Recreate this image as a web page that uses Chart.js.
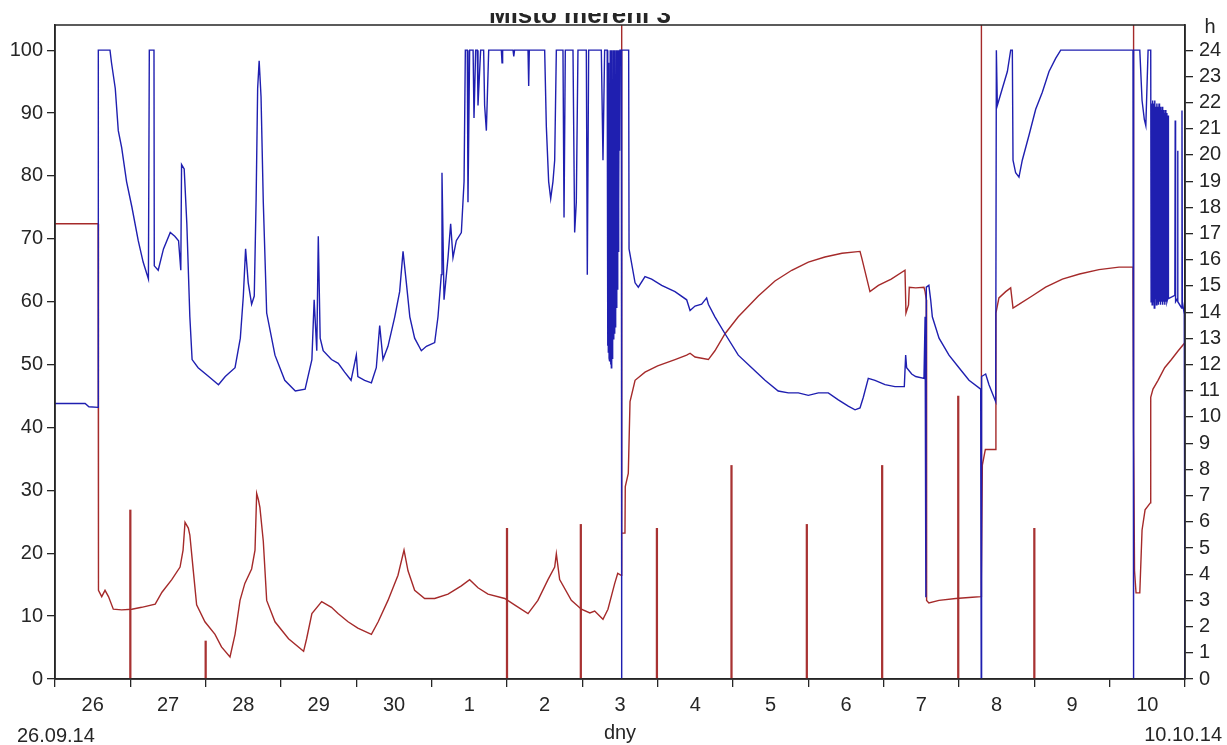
<!DOCTYPE html>
<html>
<head>
<meta charset="utf-8">
<script src="https://cdn.jsdelivr.net/npm/chart.js@4.4.1/dist/chart.umd.min.js"></script>
<style>
  html, body { margin: 0; padding: 0; background: #fff; }
  canvas { display: block; }
</style>
</head>
<body>
<canvas id="chart" width="1227" height="745"></canvas>
<script>
// x values are days since 26.09.14 00:00
const dayLabels = ['26', '27', '28', '29', '30', '1', '2', '3', '4', '5', '6', '7', '8', '9', '10'];
const dayEdges = [0, 1, 2, 3, 4, 5, 6, 7, 8, 9, 10, 11, 12, 13, 14, 15];
const leftTicks = [0, 10, 20, 30, 40, 50, 60, 70, 80, 90, 100];
const rightTicks = [0, 1, 2, 3, 4, 5, 6, 7, 8, 9, 10, 11, 12, 13, 14, 15, 16, 17, 18, 19, 20, 21, 22, 23, 24];

// blue series (left axis)
const blueDay = [
  0, 0.40, 0.45, 0.573, 0.575, 0.73, 0.75, 0.80, 0.84, 0.885, 0.95, 1.02, 1.105, 1.17, 1.24, 1.252, 1.314, 1.318,
  1.37, 1.44, 1.53, 1.59, 1.64, 1.67, 1.68, 1.715, 1.75, 1.79, 1.82, 1.90, 2.04, 2.17, 2.26, 2.39, 2.46, 2.50,
  2.53, 2.565, 2.61, 2.645, 2.67, 2.69, 2.71, 2.735, 2.765, 2.81, 2.92, 3.05, 3.19, 3.32, 3.41, 3.44, 3.475, 3.495,
  3.52, 3.56, 3.67, 3.76, 3.845, 3.93, 4.0, 4.02, 4.11, 4.2, 4.265, 4.31, 4.354, 4.42, 4.51, 4.575, 4.62, 4.664,
  4.71, 4.774, 4.863, 4.93, 5.04, 5.084, 5.128, 5.137, 5.164, 5.217, 5.252, 5.283, 5.327, 5.394, 5.43, 5.447,
  5.473, 5.482, 5.504, 5.55, 5.562, 5.584, 5.606, 5.615, 5.65, 5.69, 5.703, 5.726, 5.757, 5.925, 5.934, 5.942,
  6.08, 6.09, 6.10, 6.279, 6.288, 6.296, 6.50, 6.522, 6.553, 6.58, 6.61, 6.633, 6.655, 6.743, 6.757, 6.774,
  6.876, 6.898, 6.92, 6.942, 7.053, 7.066, 7.084, 7.252, 7.274, 7.296, 7.33,
  7.335, 7.34, 7.345, 7.35, 7.355, 7.36, 7.365, 7.37, 7.375, 7.38, 7.385, 7.39, 7.395, 7.40, 7.405, 7.41, 7.415,
  7.42, 7.425, 7.43, 7.435, 7.44, 7.445, 7.45, 7.455, 7.46, 7.465, 7.47, 7.475, 7.48, 7.485, 7.49, 7.495, 7.50,
  7.518, 7.52, 7.525, 7.615, 7.62, 7.70, 7.743, 7.832, 7.92, 8.053, 8.23, 8.385, 8.43, 8.496, 8.584, 8.65, 8.673,
  8.76, 8.894, 9.07, 9.248, 9.425, 9.60, 9.735, 9.867, 10.0, 10.133, 10.265, 10.398, 10.53, 10.62, 10.686, 10.73,
  10.796, 10.885, 11.018, 11.15, 11.274, 11.292, 11.305, 11.372, 11.425, 11.535, 11.55, 11.56, 11.566, 11.60,
  11.624, 11.646, 11.735, 11.867, 12.0, 12.133, 12.288, 12.295, 12.30, 12.354, 12.398, 12.487, 12.496, 12.509,
  12.575, 12.642, 12.686, 12.708, 12.717, 12.752, 12.796, 12.84, 12.93, 13.018, 13.106, 13.195, 13.283, 13.35,
  14.31, 14.315, 14.32, 14.40, 14.43, 14.46, 14.48, 14.51, 14.545,
  14.55, 14.557, 14.564, 14.571, 14.578, 14.585, 14.592, 14.599, 14.606, 14.613, 14.62, 14.627, 14.634, 14.641,
  14.648, 14.655, 14.662, 14.669, 14.676, 14.683, 14.69, 14.697, 14.704, 14.711, 14.718, 14.725, 14.732, 14.739,
  14.746, 14.753, 14.76, 14.77, 14.775, 14.78, 14.865, 14.87, 14.875, 14.90, 14.903, 14.906, 14.955, 14.96,
  14.965, 14.99, 15.0
];
const blueVal = [
  43.8, 43.8, 43.3, 43.2, 100, 100, 98, 93.9, 87.2, 84.5, 79.1, 75.1, 69.7, 66.3, 63.6, 100, 100, 65.7,
  65.0, 68.4, 71.0, 70.4, 69.7, 65.0, 81.8, 81.1, 72.4, 57.6, 50.8, 49.5, 48.1, 46.8, 48.1, 49.5, 54.2, 60.9,
  68.4, 63.0, 59.6, 60.9, 76.4, 93.9, 98.3, 92.6, 75.8, 58.2, 51.5, 47.5, 45.8, 46.1, 50.8, 60.3, 52.2, 70.4,
  54.2, 52.2, 50.8, 50.2, 48.8, 47.5, 51.5, 48.1, 47.5, 47.1, 49.5, 56.2, 50.8, 52.9, 57.6, 61.6, 68.0, 63.0,
  57.6, 54.2, 52.2, 52.9, 53.5, 57.6, 64.3, 80.5, 60.3, 67.0, 72.4, 67.0, 69.7, 71.0, 79.1, 100,
  100, 75.8, 100, 100, 89.2, 100, 100, 91.2, 100, 100, 91.2, 87.2, 100, 100, 98, 100,
  100, 99, 100, 100, 94.3, 100, 100, 87.9, 79.1, 76.4, 79.1, 82.5, 100, 100, 73.4, 100,
  100, 71.0, 75.8, 100, 100, 64.3, 100, 100, 82.5, 100, 100,
  53, 95, 52, 98, 51, 92, 50.5, 100, 50, 96, 49.5, 100, 51, 90, 52, 100, 54,
  97, 55, 100, 56, 94, 58, 100, 59, 98, 62, 100, 68, 100, 75, 100, 84, 100,
  100, 0, 100, 100, 68.4, 63.0, 62.3, 64.0, 63.6, 62.6, 61.6, 60.3, 58.6, 59.3, 59.6, 60.6, 59.6,
  57.6, 54.9, 51.5, 49.5, 47.5, 45.8, 45.5, 45.5, 45.1, 45.5, 45.5, 44.4, 43.4, 42.8, 43.1, 44.8,
  47.8, 47.5, 46.8, 46.5, 46.5, 51.5, 49.5, 48.5, 48.1, 47.8, 57.6, 13, 62.3, 62.6,
  60.3, 57.6, 54.2, 51.5, 49.5, 47.5, 46.1, 0, 48.1, 48.5, 46.8, 44.1, 100, 91.2,
  93.9, 96.6, 100, 100, 82.5, 80.5, 79.8, 82.5, 86.5, 90.6, 93.3, 96.6, 98.7, 100,
  100, 0, 100, 100, 92, 89, 88, 100, 100,
  60, 91.5, 59.5, 92, 60, 91.5, 59, 92, 60.5, 91, 59.5, 91.5, 60, 91,
  59.5, 91.5, 60, 91, 59.5, 90.5, 60, 91, 59.5, 90.5, 60, 90, 59.5, 90.5,
  60, 90, 60, 60.5, 89.6, 60.5, 61, 88.8, 60, 60.5, 84, 60, 59, 90.4,
  60, 58, 0
];

// red series (left axis)
const redDay = [
  0, 0.573, 0.577, 0.62, 0.664, 0.71, 0.774, 0.885, 1.02, 1.15, 1.33, 1.42, 1.55, 1.66, 1.70, 1.726, 1.77, 1.79,
  1.836, 1.88, 1.99, 2.124, 2.21, 2.323, 2.39, 2.456, 2.52, 2.61, 2.655, 2.677, 2.70, 2.72, 2.765, 2.81, 2.92,
  3.10, 3.30, 3.34, 3.41, 3.54, 3.67, 3.757, 3.89, 4.02, 4.2, 4.29, 4.42, 4.553, 4.633, 4.686, 4.774, 4.907,
  5.04, 5.217, 5.394, 5.504, 5.615, 5.748, 5.97, 6.10, 6.279, 6.41, 6.544, 6.633, 6.655, 6.699, 6.854, 6.987,
  7.10, 7.164, 7.274, 7.34, 7.43, 7.47, 7.515, 7.52, 7.525, 7.566, 7.57, 7.61, 7.633, 7.70, 7.832, 8.0, 8.23,
  8.385, 8.43, 8.496, 8.673, 8.76, 8.894, 9.07, 9.336, 9.557, 9.78, 10.0, 10.22, 10.447, 10.686, 10.708, 10.818,
  10.93, 11.10, 11.283, 11.296, 11.33, 11.34, 11.425, 11.535, 11.55, 11.566, 11.57, 11.60, 11.735, 11.956,
  12.177, 12.294, 12.295, 12.30, 12.31, 12.35, 12.48, 12.49, 12.53, 12.62, 12.686, 12.717, 12.80, 12.97, 13.15,
  13.372, 13.60, 13.858, 14.124, 14.31, 14.315, 14.32, 14.33, 14.35, 14.40, 14.43, 14.47, 14.54, 14.545, 14.575,
  14.642, 14.73, 14.82, 14.91, 15.0
];
const redVal = [
  72.4, 72.4, 14.1, 13.1, 14.1, 13.1, 11.1, 11.0, 11.1, 11.4, 11.9, 13.8, 15.8, 17.8, 20.5, 24.9, 24.0, 22.9,
  17.2, 11.8, 9.1, 7.1, 5.1, 3.5, 7.1, 12.5, 15.2, 17.5, 20.5, 29.5, 28.5, 27.3, 21.9, 12.5, 9.1,
  6.4, 4.4, 6.4, 10.4, 12.3, 11.4, 10.4, 9.1, 8.1, 7.1, 9.1, 12.5, 16.5, 20.5, 17.2, 14.1, 12.8,
  12.8, 13.5, 14.8, 15.8, 14.5, 13.5, 12.8, 11.8, 10.4, 12.5, 15.8, 17.8, 19.9, 15.8, 12.5, 11.1,
  10.5, 10.8, 9.5, 11.1, 15.2, 16.8, 16.5, 110, 23.2, 23.2, 30.6, 32.7, 44.1, 47.5, 48.8, 49.8, 50.8,
  51.5, 51.8, 51.2, 50.8, 52.2, 54.9, 57.6, 60.9, 63.3, 65.0, 66.3, 67.1, 67.7, 68.0, 67.0, 61.6,
  62.6, 63.6, 65.0, 58.2, 59.5, 62.3, 62.2, 62.3, 61.6, 60.3, 12.5, 12.1, 12.5, 12.8,
  13.0, 13.1, 110, 15.8, 34, 36.5, 36.5, 58.2, 60.6, 61.6, 62.2, 59.0, 59.6, 60.9, 62.3,
  63.6, 64.4, 65.1, 65.5, 65.5, 110, 39.6, 17.2, 13.7, 13.7, 23.7, 26.9, 28.0, 44.8, 46.1,
  47.5, 49.5, 50.8, 52.2, 53.5
];

// daily bars (right axis, h)
const sunDay = [1.0, 2.0, 6.0, 6.98, 7.99, 8.98, 9.98, 10.98, 11.99, 13.0];
const sunHours = [6.45, 1.45, 5.75, 5.9, 5.75, 8.15, 5.9, 8.15, 10.8, 5.75];

const FONT = 'Liberation Sans, Arial, sans-serif';
const INK = '#262626';

Chart.defaults.font.family = FONT;
Chart.defaults.font.size = 20;
Chart.defaults.color = INK;

const extras = {
  id: 'extras',
  beforeDraw(chart) {
    const ctx = chart.ctx;
    ctx.save();
    ctx.fillStyle = '#fff';
    ctx.fillRect(0, 0, chart.width, chart.height);
    ctx.restore();
  },
  afterDraw(chart) {
    const ctx = chart.ctx;
    const a = chart.chartArea;
    ctx.save();
    ctx.strokeStyle = INK;
    ctx.lineWidth = 1.5;
    ctx.strokeRect(a.left, a.top, a.right - a.left, a.bottom - a.top);

    ctx.fillStyle = INK;
    ctx.font = '20px ' + FONT;
    ctx.textBaseline = 'alphabetic';
    ctx.textAlign = 'left';
    ctx.fillText('26.09.14', 17, 742);
    ctx.textAlign = 'right';
    ctx.fillText('10.10.14', 1222, 741);
    ctx.textAlign = 'center';
    ctx.fillText('h', 1210, 33);

    // title, its upper half is cut off in the original
    ctx.beginPath();
    ctx.rect(0, 13, chart.width, 11);
    ctx.clip();
    ctx.font = 'bold 26px ' + FONT;
    ctx.fillText('Místo měření 3', 580, 23);
    ctx.restore();
  }
};

new Chart(document.getElementById('chart'), {
  type: 'line',
  data: {
    datasets: [
      {
        label: 'blue',
        data: blueDay.map((d, i) => ({ x: d, y: blueVal[i] })),
        borderColor: '#1f1fb0',
        borderWidth: 1.4,
        yAxisID: 'y',
        order: 1
      },
      {
        label: 'red',
        data: redDay.map((d, i) => ({ x: d, y: redVal[i] })),
        borderColor: '#a52a2a',
        borderWidth: 1.4,
        yAxisID: 'y',
        order: 2
      },
      {
        type: 'bar',
        label: 'h',
        data: sunDay.map((d, i) => ({ x: d, y: sunHours[i] })),
        backgroundColor: '#a83232',
        barThickness: 1.6,
        yAxisID: 'yR',
        order: 3
      }
    ]
  },
  options: {
    responsive: false,
    animation: false,
    devicePixelRatio: 1,
    elements: { point: { radius: 0 }, line: { tension: 0 } },
    layout: { padding: { top: 25, left: 0, right: 0, bottom: 0 } },
    plugins: { legend: { display: false }, tooltip: { enabled: false } },
    scales: {
      x: {
        type: 'linear', position: 'bottom', weight: 0, min: 0, max: 15, offset: false,
        afterBuildTicks: s => { s.ticks = dayEdges.map(v => ({ value: v })); },
        ticks: { display: false },
        grid: { drawOnChartArea: false, offset: false, tickLength: 8, color: INK, lineWidth: 1.3 },
        border: { color: INK, width: 1.5 }
      },
      xLab: {
        type: 'linear', position: 'bottom', weight: 1, min: 0, max: 15, offset: false,
        afterBuildTicks: s => { s.ticks = dayLabels.map((_, i) => ({ value: dayEdges[i] + 0.5 })); },
        ticks: { callback: (v, i) => dayLabels[i], autoSkip: false, maxRotation: 0, padding: 6 },
        grid: { display: false, drawTicks: false, offset: false },
        border: { display: false },
        title: { display: true, text: 'dny', padding: 0 },
        afterFit: s => { s.height = 58; }
      },
      y: {
        type: 'linear', position: 'left', min: 0, max: 104,
        afterBuildTicks: s => { s.ticks = leftTicks.map(v => ({ value: v })); },
        ticks: { padding: 4 },
        grid: { drawOnChartArea: false, tickLength: 8, color: INK, lineWidth: 1.3 },
        border: { color: INK, width: 1.5 },
        afterFit: s => { s.width = 55; }
      },
      yR: {
        type: 'linear', position: 'right', min: 0, max: 24.96,
        afterBuildTicks: s => { s.ticks = rightTicks.map(v => ({ value: v })); },
        ticks: { padding: 6 },
        grid: { drawOnChartArea: false, tickLength: 8, color: INK, lineWidth: 1.3 },
        border: { color: INK, width: 1.5 },
        afterFit: s => { s.width = 42; }
      }
    }
  },
  plugins: [extras]
});
</script>
</body>
</html>
